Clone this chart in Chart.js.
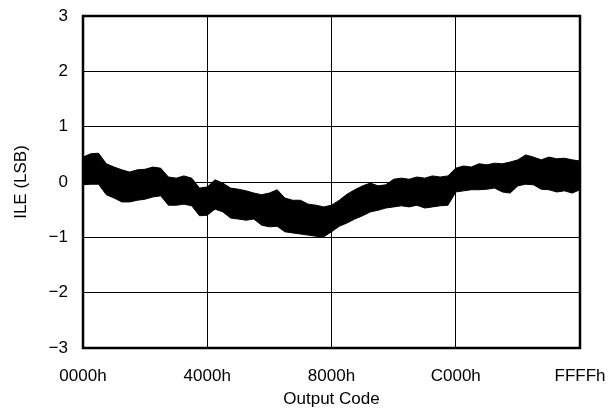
<!DOCTYPE html>
<html lang="en">

<head>
    <meta charset="UTF-8" />
    <title>ILE vs Output Code</title>
    <script src="https://cdn.jsdelivr.net/npm/chart.js@4/dist/chart.umd.min.js"></script>
    <style>
        html, body { margin: 0; padding: 0; background: #fff; }
        #box { width: 611px; height: 414px; }
    </style>
</head>

<body>
    <div id="box"><canvas id="myChart"></canvas></div>

    <script>
        var codes = [0, 1024, 2048, 3072, 4096, 5120, 6144, 7168, 8192, 9216, 10240, 11264, 12288, 13312, 14336, 15360,
            16384, 17408, 18432, 19456, 20480, 21504, 22528, 23552, 24576, 25600, 26624, 27648, 28672, 29696, 30720, 31744,
            32768, 33792, 34816, 35840, 36864, 37888, 38912, 39936, 40960, 41984, 43008, 44032, 45056, 46080, 47104, 48128,
            49152, 50176, 51200, 52224, 53248, 54272, 55296, 56320, 57344, 58368, 59392, 60416, 61440, 62464, 63488, 64512, 65535];

        // upper / lower edge of the ILE noise band (LSB)
        var ileHigh = [0.45, 0.51, 0.52, 0.33, 0.27, 0.22, 0.18, 0.22, 0.23, 0.27, 0.25, 0.09, 0.07, 0.11, 0.07, -0.11,
            -0.09, 0.04, -0.02, -0.11, -0.13, -0.16, -0.20, -0.23, -0.20, -0.14, -0.29, -0.33, -0.33, -0.40, -0.42, -0.45,
            -0.42, -0.33, -0.22, -0.14, -0.07, -0.02, -0.07, -0.05, 0.05, 0.07, 0.05, 0.09, 0.07, 0.11, 0.09, 0.11,
            0.25, 0.29, 0.27, 0.33, 0.31, 0.34, 0.33, 0.36, 0.40, 0.49, 0.45, 0.40, 0.45, 0.42, 0.43, 0.40, 0.38];
        var ileLow = [-0.05, -0.04, -0.04, -0.23, -0.29, -0.36, -0.36, -0.33, -0.31, -0.27, -0.25, -0.42, -0.42, -0.40, -0.43, -0.61,
            -0.60, -0.49, -0.54, -0.65, -0.67, -0.69, -0.67, -0.78, -0.81, -0.80, -0.90, -0.92, -0.94, -0.96, -0.98, -0.99,
            -0.90, -0.80, -0.74, -0.67, -0.61, -0.54, -0.51, -0.47, -0.45, -0.43, -0.45, -0.42, -0.47, -0.45, -0.43, -0.42,
            -0.18, -0.16, -0.14, -0.14, -0.13, -0.11, -0.18, -0.20, -0.07, -0.04, -0.05, -0.13, -0.14, -0.18, -0.16, -0.20, -0.14];

        var xTickValues = [0, 16384, 32768, 49152, 65535];
        var xTickLabels = ['0000h', '4000h', '8000h', 'C000h', 'FFFFh'];
        var yTickValues = [-3, -2, -1, 0, 1, 2, 3];
        var yTickLabels = ['\u22123', '\u22122', '\u22121', '0', '1', '2', '3'];

        function toPoints(ys) {
            var pts = [];
            for (var i = 0; i < codes.length; ++i) {
                pts.push({ x: codes[i], y: ys[i] });
            }
            return pts;
        }

        // box round the plot area
        var frame = {
            id: 'frame',
            afterDraw: function (chart) {
                var a = chart.chartArea;
                var c = chart.ctx;
                c.save();
                c.strokeStyle = '#000';
                c.lineWidth = 2.5;
                c.strokeRect(a.left, a.top, a.right - a.left, a.bottom - a.top);
                c.restore();
            }
        };

        Chart.defaults.font.family = '"Liberation Sans", Arial, Helvetica, sans-serif';
        Chart.defaults.font.size = 17;
        Chart.defaults.color = '#000';

        var ctx = document.getElementById('myChart').getContext('2d');
        var myChart = new Chart(ctx, {
            type: 'line',
            data: {
                datasets: [
                    {
                        label: 'ILE high',
                        data: toPoints(ileHigh),
                        borderColor: '#000',
                        backgroundColor: '#000',
                        borderWidth: 1,
                        pointRadius: 0,
                        fill: '+1'
                    },
                    {
                        label: 'ILE low',
                        data: toPoints(ileLow),
                        borderColor: '#000',
                        backgroundColor: '#000',
                        borderWidth: 1,
                        pointRadius: 0,
                        fill: false
                    }]
            },
            options: {
                responsive: true,
                maintainAspectRatio: false,
                animation: false,
                layout: { padding: { top: 16, right: 31, left: 0, bottom: 0 } },
                plugins: {
                    legend: { display: false },
                    tooltip: { enabled: false }
                },
                scales: {
                    x: {
                        type: 'linear',
                        min: 0,
                        max: 65535,
                        afterBuildTicks: function (scale) {
                            scale.ticks = xTickValues.map(function (v) { return { value: v }; });
                        },
                        afterFit: function (scale) {
                            scale.height = 66;
                            scale.paddingLeft = 0;
                            scale.paddingRight = 0;
                        },
                        ticks: {
                            maxRotation: 0,
                            padding: 18,
                            callback: function (v) {
                                var i = xTickValues.indexOf(v);
                                return i < 0 ? '' : xTickLabels[i];
                            }
                        },
                        grid: { color: '#000', lineWidth: 1, drawTicks: false },
                        border: { display: false },
                        title: { display: true, text: 'Output Code', padding: { top: 0, bottom: 4 } }
                    },
                    y: {
                        min: -3,
                        max: 3,
                        afterBuildTicks: function (scale) {
                            scale.ticks = yTickValues.map(function (v) { return { value: v }; });
                        },
                        afterFit: function (scale) {
                            scale.width = 83;
                            scale.paddingTop = 0;
                            scale.paddingBottom = 0;
                        },
                        ticks: {
                            padding: 15,
                            callback: function (v) {
                                var i = yTickValues.indexOf(v);
                                return i < 0 ? '' : yTickLabels[i];
                            }
                        },
                        grid: { color: '#000', lineWidth: 1, drawTicks: false },
                        border: { display: false },
                        title: { display: true, text: 'ILE (LSB)', padding: { top: 11, bottom: 0 } }
                    }
                }
            },
            plugins: [frame]
        });
    </script>
</body>

</html>
